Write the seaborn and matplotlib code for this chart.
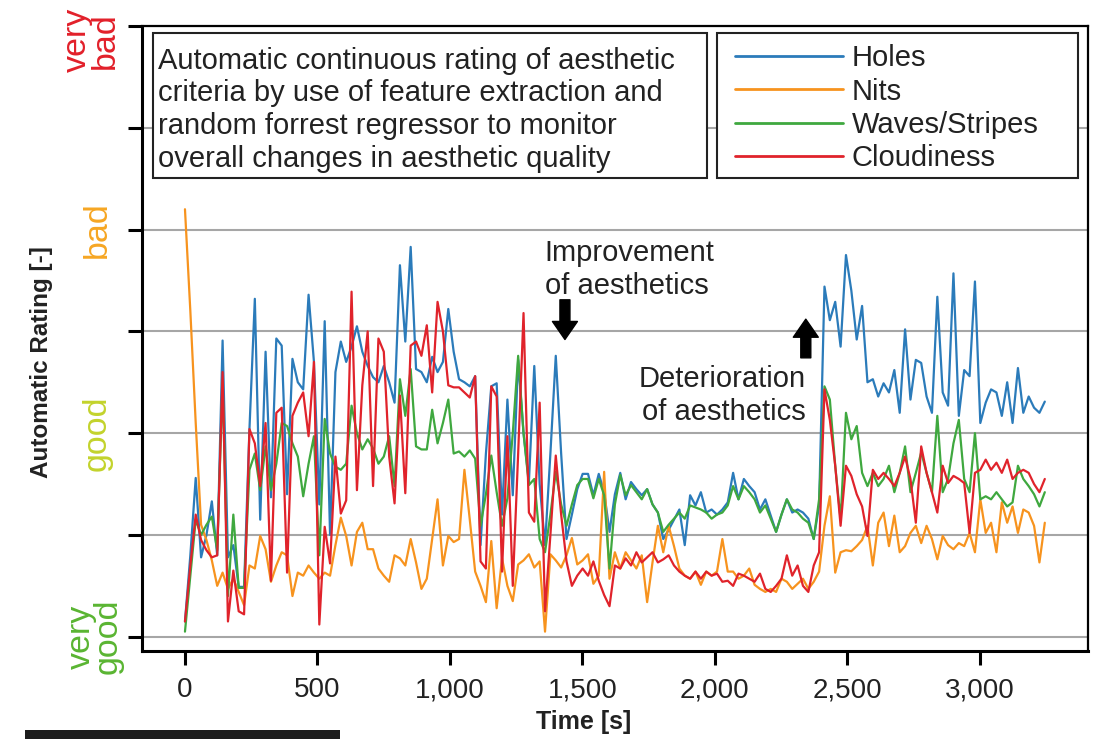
import numpy as np
import pandas as pd
import matplotlib
matplotlib.use("Agg")
import matplotlib.pyplot as plt
import seaborn as sns
from matplotlib.patches import Rectangle
from matplotlib.transforms import blended_transform_factory

# rating scale: 1 = very good ... 7 = very bad, sampled about every 20 s
time_s = np.linspace(0, 3245, 161)

holes = [
    1.15, 1.8, 2.56, 1.78, 2.0, 2.33, 1.8, 3.91, 1.78, 1.9,
    1.49, 1.49, 3.04, 4.32, 2.15, 3.8, 2.37, 3.93, 3.86, 2.4,
    3.73, 3.5, 3.43, 4.36, 3.7, 2.3, 4.1, 2.0, 3.6, 3.9,
    3.7, 3.85, 4.05, 3.8, 3.66, 3.55, 3.5, 3.66, 3.5, 3.3,
    4.65, 3.9, 4.83, 3.63, 3.6, 3.5, 3.75, 3.6, 3.7, 4.22,
    3.8, 3.53, 3.5, 3.46, 3.56, 1.9, 2.8, 3.46, 3.49, 2.2,
    3.33, 2.39, 3.72, 3.0, 2.52, 3.66, 2.5, 1.9, 2.8, 3.76,
    2.8, 1.96, 2.2, 2.45, 2.6, 2.6, 2.39, 2.6, 2.42, 2.03,
    2.4, 2.61, 2.35, 2.52, 2.45, 2.39, 2.45, 2.3, 2.22, 1.96,
    2.05, 2.15, 2.25, 1.9, 2.39, 2.29, 2.42, 2.22, 2.25, 2.2,
    2.25, 2.32, 2.61, 2.35, 2.55, 2.48, 2.42, 2.25, 2.35, 2.19,
    2.03, 2.2, 2.35, 2.22, 2.25, 2.22, 2.16, 1.96, 2.29, 4.44,
    4.11, 4.29, 3.85, 4.75, 4.4, 3.92, 4.25, 3.5, 3.53, 3.36,
    3.49, 3.4, 3.62, 3.2, 4.02, 3.33, 3.72, 3.69, 3.36, 3.2,
    4.34, 3.4, 3.27, 4.57, 3.17, 3.62, 3.56, 4.49, 3.1, 3.3,
    3.43, 3.4, 3.17, 3.5, 3.1, 3.64, 3.2, 3.36, 3.25, 3.2,
    3.31,
]

nits = [
    5.2, 4.2, 3.1, 2.1, 1.95, 1.75, 1.5, 1.63, 1.47, 1.57,
    1.44, 1.31, 1.7, 1.67, 1.99, 1.86, 1.54, 1.7, 1.83, 1.8,
    1.4, 1.63, 1.6, 1.7, 1.63, 1.57, 1.63, 1.6, 1.9, 2.17,
    1.99, 1.7, 2.03, 2.12, 1.86, 1.86, 1.67, 1.6, 1.54, 1.8,
    1.77, 1.7, 1.96, 1.73, 1.47, 1.57, 1.96, 2.35, 1.7, 1.99,
    1.93, 1.96, 2.64, 2.15, 1.64, 1.5, 1.34, 1.94, 1.28, 1.77,
    1.5, 1.35, 1.71, 1.75, 1.81, 1.68, 1.74, 1.05, 1.81, 1.75,
    1.68, 1.8, 1.97, 1.71, 1.75, 1.81, 1.52, 1.6, 2.62, 1.57,
    1.83, 1.67, 1.83, 1.75, 1.67, 1.8, 1.34, 1.73, 2.09, 1.83,
    2.09, 1.89, 1.67, 1.6, 1.57, 1.64, 1.51, 1.64, 1.6, 1.64,
    1.96, 1.64, 1.64, 1.57, 1.6, 1.67, 1.51, 1.47, 1.44, 1.47,
    1.44, 1.57, 1.54, 1.47, 1.52, 1.57, 1.47, 1.54, 1.64, 2.09,
    2.38, 1.63, 1.83, 1.85, 1.84, 1.89, 1.95, 2.09, 1.7, 2.12,
    2.22, 1.89, 2.19, 1.83, 1.89, 2.02, 2.09, 1.92, 2.09, 1.96,
    1.76, 1.99, 1.9, 1.86, 1.92, 1.89, 2.02, 1.83, 2.35, 2.02,
    2.12, 1.83, 2.32, 2.12, 2.28, 2.02, 2.25, 2.22, 2.09, 1.73,
    2.12,
]

waves = [
    1.05, 1.6, 2.15, 2.0, 2.1, 2.18, 1.85, 3.5, 1.4, 2.2,
    1.48, 1.48, 2.64, 2.8, 2.44, 2.87, 2.44, 2.7, 3.1, 3.07,
    2.9, 2.77, 2.38, 2.7, 2.97, 1.8, 3.14, 2.8, 2.67, 2.64,
    2.7, 3.27, 3.0, 2.84, 2.94, 2.85, 2.7, 2.77, 2.97, 2.48,
    3.53, 3.17, 3.63, 2.87, 2.84, 2.84, 3.23, 2.9, 3.1, 3.33,
    2.8, 2.82, 2.77, 2.83, 2.75, 2.09, 2.4, 2.78, 2.42, 2.09,
    2.36, 3.0, 3.76, 3.0, 2.49, 2.55, 1.96, 1.83, 2.2, 2.62,
    2.3, 2.09, 2.3, 2.49, 2.55, 2.55, 2.36, 2.55, 2.39, 1.67,
    2.3, 2.59, 2.39, 2.49, 2.42, 2.35, 2.45, 2.3, 2.22, 2.03,
    2.1, 2.16, 2.22, 2.16, 2.29, 2.27, 2.25, 2.22, 2.16, 2.2,
    2.22, 2.29, 2.48, 2.35, 2.48, 2.42, 2.35, 2.22, 2.29, 2.16,
    2.03, 2.2, 2.35, 2.25, 2.22, 2.16, 2.12, 1.96, 2.35, 3.46,
    3.33, 2.68, 2.15, 3.2, 2.94, 3.07, 2.61, 2.48, 2.61, 2.48,
    2.55, 2.68, 2.42, 2.61, 2.87, 2.42, 2.61, 2.81, 2.61, 2.42,
    3.17, 2.42, 2.55, 2.9, 3.13, 2.55, 2.42, 3.0, 2.35, 2.38,
    2.35, 2.42, 2.35, 2.28, 2.32, 2.68, 2.55, 2.48, 2.4, 2.28,
    2.42,
]

cloudiness = [
    1.15, 1.7, 2.2, 1.95, 1.85, 1.78, 1.8, 3.6, 1.15, 1.65,
    1.25, 1.22, 3.04, 2.9, 2.48, 3.1, 1.55, 3.2, 3.25, 1.63,
    3.17, 3.3, 3.4, 2.97, 3.7, 1.12, 2.08, 1.72, 2.77, 2.21,
    2.34, 4.39, 2.44, 3.47, 4.0, 2.48, 3.93, 3.8, 2.77, 2.31,
    3.37, 2.41, 3.86, 3.9, 3.76, 4.06, 3.4, 4.29, 4.0, 3.47,
    3.45, 3.45, 3.4, 3.35, 3.56, 1.74, 1.67, 3.46, 3.36, 1.64,
    2.97, 1.5, 2.8, 4.18, 2.22, 2.13, 3.3, 1.25, 2.0, 2.78,
    2.2, 1.74, 1.5, 1.6, 1.67, 1.6, 1.74, 1.55, 1.41, 1.3,
    1.7, 1.67, 1.77, 1.7, 1.83, 1.73, 1.78, 1.83, 1.73, 1.76,
    1.8, 1.7, 1.64, 1.6, 1.57, 1.64, 1.57, 1.64, 1.6, 1.62,
    1.54, 1.55, 1.5, 1.62, 1.6, 1.57, 1.54, 1.62, 1.47, 1.44,
    1.5, 1.57, 1.8, 1.6, 1.7, 1.5, 1.44, 1.7, 1.83, 3.43,
    3.13, 2.68, 2.09, 2.68, 2.58, 2.4, 2.28, 1.99, 2.64, 2.55,
    2.61, 2.55, 2.48, 2.61, 2.77, 2.55, 2.12, 2.87, 2.61, 2.42,
    2.22, 2.68, 2.51, 2.58, 2.55, 2.51, 2.02, 2.61, 2.64, 2.74,
    2.64, 2.71, 2.61, 2.74, 2.55, 2.61, 2.64, 2.61, 2.5, 2.42,
    2.55,
]

criteria = ["Holes", "Nits", "Waves/Stripes", "Cloudiness"]
line_colors = ["#2b7bba", "#f7931e", "#3fa83f", "#e0232b"]

rating_ticks = [1, 2, 3, 4, 5, 6, 7]
rating_names = ["very\ngood", "good", "bad", "very\nbad"]
rating_name_y = [1.0, 3.0, 5.0, 6.86]
rating_name_x = [-0.050, -0.0476, -0.0476, -0.0534]
rating_name_colors = ["#5ab532", "#c3d32c", "#f6a623", "#e2202a"]

time_ticks = [0, 500, 1000, 1500, 2000, 2500, 3000]

info_text = ("Automatic continuous rating of aesthetic\n"
             "criteria by use of feature extraction and\n"
             "random forrest regressor to monitor\n"
             "overall changes in aesthetic quality")

df = pd.DataFrame({
    "time": np.tile(time_s, len(criteria)),
    "rating": np.concatenate([holes, nits, waves, cloudiness]),
    "criterion": np.repeat(criteria, len(time_s)),
})

sns.set_style("white")
plt.rcParams["font.family"] = ["Liberation Sans", "DejaVu Sans"]

fig = plt.figure(figsize=(10.96, 7.39), dpi=100)
ax = fig.add_axes([0.1296, 0.1191, 0.8631, 0.8457])

sns.lineplot(data=df, x="time", y="rating", hue="criterion", hue_order=criteria,
             palette=line_colors, estimator=None, errorbar=None, linewidth=1.6, ax=ax)

ax.set_xlim(-162, 3408)
ax.set_ylim(0.86, 7.0)
ax.set_yticks(rating_ticks)
ax.set_yticklabels([])
ax.set_xticks(time_ticks)
ax.set_xticklabels([f"{v:,}" for v in time_ticks])
ax.yaxis.grid(True, color="#a6a6a6", linewidth=1.5)
ax.xaxis.grid(False)
ax.set_axisbelow(True)
ax.tick_params(axis="both", direction="out", length=10, width=2.2, color="black",
               bottom=True, left=True)
ax.tick_params(axis="x", labelsize=20, pad=9, labelcolor="#222222")
for side, spine in ax.spines.items():
    spine.set_color("black")
    spine.set_linewidth(2.2 if side in ("left", "bottom") else 1.6)

ax.set_xlabel("Time [s]", fontsize=18, fontweight="bold", color="#222222")
ax.xaxis.set_label_coords(0.467, -0.094)
ax.set_ylabel("Automatic Rating [-]", fontsize=17.5, fontweight="bold", color="#222222")
ax.yaxis.set_label_coords(-0.094, 0.4624)

trans = blended_transform_factory(ax.transAxes, ax.transData)
for name, x, y, c in zip(rating_names, rating_name_x, rating_name_y, rating_name_colors):
    ax.text(x, y, name, transform=trans, rotation=90, ha="center", va="center",
            multialignment="center", fontsize=24.5, color=c, linespacing=0.85, clip_on=False)

# description box
ax.add_patch(Rectangle((0.0116, 0.7568), 0.5857, 0.232, transform=ax.transAxes,
                       facecolor="white", edgecolor="#222222", linewidth=1.5, zorder=5))
ax.text(0.0169, 0.866, info_text, transform=ax.transAxes, ha="left", va="center",
        fontsize=21, color="#222222", linespacing=1.21, zorder=6)

# legend box
ax.add_patch(Rectangle((0.6078, 0.7568), 0.3816, 0.232, transform=ax.transAxes,
                       facecolor="white", edgecolor="#222222", linewidth=1.5, zorder=5))
handles, labels = ax.get_legend_handles_labels()
leg = ax.legend(handles, labels, loc="upper left", bbox_to_anchor=(0.6268, 0.9706),
                frameon=False, fontsize=21, handlelength=3.7, handletextpad=0.3,
                labelspacing=0.18, borderpad=0, borderaxespad=0)
leg.set_zorder(7)
for line in leg.get_lines():
    line.set_linewidth(2.0)
for t in leg.get_texts():
    t.set_color("#222222")

# annotations
arrow_style = "simple,head_length=1.3,head_width=1.8,tail_width=0.72"
ax.text(1358, 4.61, "Improvement\nof aesthetics", ha="left", va="center",
        fontsize=21, color="#222222", linespacing=1.22)
ax.annotate("", xy=(1434, 3.92), xytext=(1434, 4.31),
            arrowprops=dict(arrowstyle=arrow_style, fc="black", ec="black",
                            mutation_scale=10, shrinkA=0, shrinkB=0))
ax.text(2343, 3.37, "Deterioration\nof aesthetics", ha="right", va="center",
        multialignment="right", fontsize=21, color="#222222", linespacing=1.2)
ax.annotate("", xy=(2343, 4.12), xytext=(2343, 3.74),
            arrowprops=dict(arrowstyle=arrow_style, fc="black", ec="black",
                            mutation_scale=10, shrinkA=0, shrinkB=0))

fig.add_artist(Rectangle((0.0228, 0.0), 0.2874, 0.0122, transform=fig.transFigure,
                         facecolor="#1c1c1c", edgecolor="none"))

fig.savefig("out.png", dpi=100)
